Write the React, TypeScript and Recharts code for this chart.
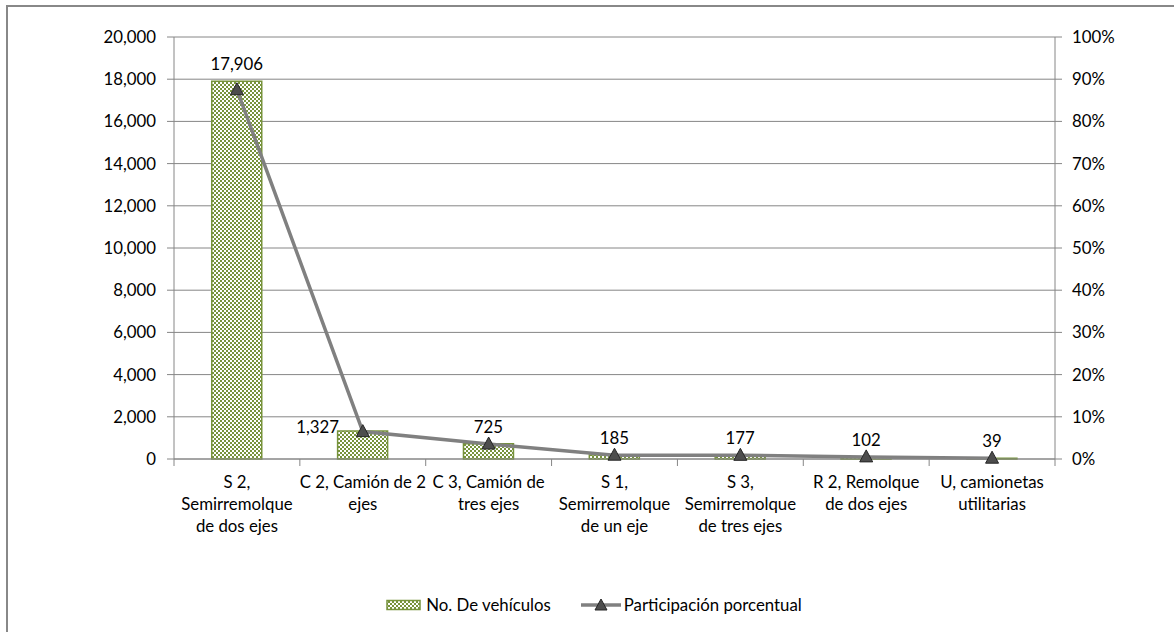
import {
  ComposedChart,
  Bar,
  Line,
  XAxis,
  YAxis,
  CartesianGrid,
  LabelList,
} from "recharts";

const categories = [
  "S 2,\nSemirremolque\nde dos ejes",
  "C 2, Camión de 2\nejes",
  "C 3, Camión de\ntres ejes",
  "S 1,\nSemirremolque\nde un eje",
  "S 3,\nSemirremolque\nde tres ejes",
  "R 2, Remolque\nde dos ejes",
  "U, camionetas\nutilitarias",
];
const vehicles = [17906, 1327, 725, 185, 177, 102, 39];
const shares = [0.875, 0.0649, 0.0354, 0.009, 0.0087, 0.005, 0.0019];
const leftTicks = [0, 2000, 4000, 6000, 8000, 10000, 12000, 14000, 16000, 18000, 20000];
const rightTicks = [0, 0.1, 0.2, 0.3, 0.4, 0.5, 0.6, 0.7, 0.8, 0.9, 1];

const W = 1174;
const H = 632;
const PLOT_LEFT = 174;
const PLOT_RIGHT = 1055;
const PLOT_TOP = 37;
const PLOT_BOTTOM = 459;
const BAND = (PLOT_RIGHT - PLOT_LEFT) / categories.length;

const FONT = "Lato, 'Open Sans', sans-serif";
const FS = 16.8;
const GREEN = "#77933c";
const AXIS = "#868686";

const data = categories.map((name, i) => ({
  name,
  vehicles: vehicles[i],
  share: shares[i],
}));

function CategoryTick(props: any) {
  const { x, payload, index } = props;
  const lines = String(payload.value).split("\n");
  const left = x - BAND / 2;
  return (
    <g>
      <line x1={left} x2={left} y1={PLOT_BOTTOM} y2={PLOT_BOTTOM + 7} stroke={AXIS} />
      {index === categories.length - 1 && (
        <line x1={left + BAND} x2={left + BAND} y1={PLOT_BOTTOM} y2={PLOT_BOTTOM + 7} stroke={AXIS} />
      )}
      <text textAnchor="middle" fontFamily={FONT} fontSize={FS} fill="#000">
        {lines.map((l, j) => (
          <tspan key={j} x={x} y={PLOT_BOTTOM + 29 + j * 22}>
            {l}
          </tspan>
        ))}
      </text>
    </g>
  );
}

function Triangle(props: any) {
  const { cx, cy } = props;
  if (cx == null || cy == null) return null;
  return (
    <path
      d={`M${cx},${cy - 7} L${cx + 6.5},${cy + 5} L${cx - 6.5},${cy + 5} Z`}
      fill="#4d4d4d"
      stroke="#262626"
      strokeWidth={1}
    />
  );
}

function BarValue(props: any) {
  const { x, y, width, value, index } = props;
  let cx = x + width / 2;
  let cy = y - 11;
  // Excel label for the second bar was dragged to the left of the marker
  if (index === 1) {
    cx -= 45;
    cy = y + 2;
  }
  return (
    <text x={cx} y={cy} textAnchor="middle" fontFamily={FONT} fontSize={FS} fill="#000">
      {Number(value).toLocaleString("en-US")}
    </text>
  );
}

export default function App() {
  return (
    <div style={{ position: "relative", width: W, height: H, overflow: "hidden", background: "#fff" }}>
      <style>{`body{margin:0}`}</style>
      <div
        style={{
          position: "absolute",
          left: 6,
          top: 5,
          width: W + 20,
          height: H + 20,
          border: "2px solid #888888",
          boxSizing: "border-box",
        }}
      />
      <div style={{ position: "absolute", left: 0, top: 0 }}>
        <ComposedChart
          width={W}
          height={H}
          data={data}
          margin={{ top: PLOT_TOP, right: 0, left: 0, bottom: 0 }}
          barCategoryGap="30%"
        >
          <defs>
            <pattern id="checker" width="4" height="4" patternUnits="userSpaceOnUse">
              <rect width="4" height="4" fill="#ffffff" />
              <rect width="2" height="2" fill={GREEN} />
              <rect x="2" y="2" width="2" height="2" fill={GREEN} />
            </pattern>
          </defs>
          <CartesianGrid vertical={false} stroke={AXIS} yAxisId="left" />
          <XAxis
            dataKey="name"
            interval={0}
            height={H - PLOT_BOTTOM}
            tickLine={false}
            axisLine={{ stroke: AXIS }}
            tick={<CategoryTick />}
          />
          <YAxis
            yAxisId="left"
            width={PLOT_LEFT}
            domain={[0, 20000]}
            ticks={leftTicks}
            tickSize={7}
            tickMargin={11}
            stroke={AXIS}
            tick={{ fill: "#000", fontSize: FS, fontFamily: FONT }}
            tickFormatter={(v: number) => v.toLocaleString("en-US")}
          />
          <YAxis
            yAxisId="right"
            orientation="right"
            width={W - PLOT_RIGHT}
            domain={[0, 1]}
            ticks={rightTicks}
            tickSize={7}
            tickMargin={10}
            stroke={AXIS}
            tick={{ fill: "#000", fontSize: FS, fontFamily: FONT, textAnchor: "start" }}
            tickFormatter={(v: number) => `${Math.round(v * 100)}%`}
          />
          <Bar
            yAxisId="left"
            dataKey="vehicles"
            fill="url(#checker)"
            stroke={GREEN}
            strokeWidth={1.5}
            isAnimationActive={false}
          >
            <LabelList dataKey="vehicles" content={<BarValue />} />
          </Bar>
          <Line
            yAxisId="right"
            dataKey="share"
            stroke="#808080"
            strokeWidth={3.5}
            dot={<Triangle />}
            activeDot={false}
            isAnimationActive={false}
          />
        </ComposedChart>
      </div>
      <div
        style={{
          position: "absolute",
          top: 594,
          left: 0,
          width: W,
          display: "flex",
          justifyContent: "center",
          alignItems: "center",
          fontFamily: FONT,
          fontSize: FS,
          color: "#000",
          transform: "translateX(7px)",
        }}
      >
        <svg width={36} height={12} style={{ marginRight: 4 }}>
          <defs>
            <pattern id="checkerLegend" width="4" height="4" patternUnits="userSpaceOnUse">
              <rect width="4" height="4" fill="#ffffff" />
              <rect width="2" height="2" fill={GREEN} />
              <rect x="2" y="2" width="2" height="2" fill={GREEN} />
            </pattern>
          </defs>
          <rect x={1} y={1.5} width={33} height={9} fill="url(#checkerLegend)" stroke={GREEN} strokeWidth={1.5} />
        </svg>
        <span>No. De vehículos</span>
        <svg width={40} height={14} style={{ marginLeft: 30, marginRight: 3 }}>
          <line x1={0} y1={7} x2={40} y2={7} stroke="#808080" strokeWidth={3.5} />
          <path d="M20,1 L26,12 L14,12 Z" fill="#4d4d4d" stroke="#262626" />
        </svg>
        <span>Participación porcentual</span>
      </div>
    </div>
  );
}
